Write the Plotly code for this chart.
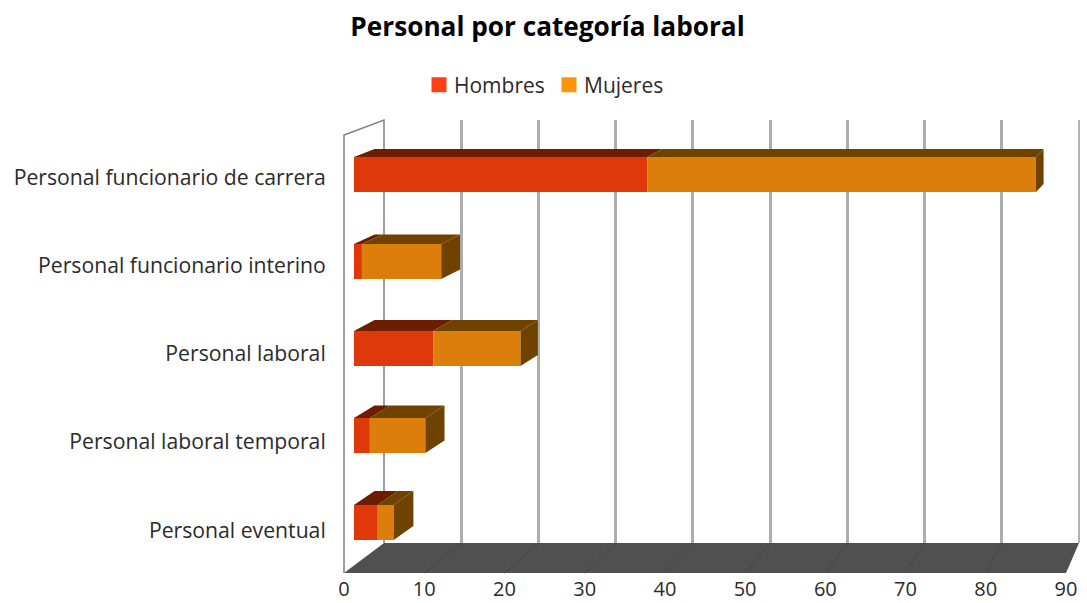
import plotly.graph_objects as go

W, H = 1087, 603
FONT = "Open Sans"
TEXT = "#2b2b2b"

categories = ["Personal funcionario de carrera", "Personal funcionario interino",
              "Personal laboral", "Personal laboral temporal", "Personal eventual"]
hombres = [37, 1, 10, 2, 3]
mujeres = [49, 10, 11, 7, 2]
x_ticks = [0, 10, 20, 30, 40, 50, 60, 70, 80, 90]

C_H, C_M = "#DE380B", "#DC7E0B"
C_H_TOP, C_M_TOP = "#6E1E00", "#6F4200"
C_H_LEG, C_M_LEG = "#FF4012", "#FF930F"

# pixel geometry of the pseudo-3D box
BAR_X0, BAR_PX = 354.0, 7.93
BAR_Y0, BAR_DY = 174.5, 87.0
BOX_TOP, BOX_BOT, BACK_BOT = 120, 573, 543
FRONT_X0, FRONT_X1 = 344, 1066
BACK_X0, BACK_X1 = 384, 1079
LAB_Y0, LAB_DY = 177.3, 88.25


def px(p):
    return p / W


def py(p):
    return 1 - p / H


def depth_x(v):
    return (20.5 - 0.15 * v) / BAR_PX


def depth_y(i):
    return (8 + 1.5 * i) / BAR_DY


fig = go.Figure()

# Floor and walls
shapes = [
    dict(type="path", xref="paper", yref="paper", layer="below", line=dict(width=0),
         fillcolor="#505050",
         path=f"M{px(FRONT_X0)},{py(BOX_BOT)} L{px(FRONT_X1)},{py(BOX_BOT)} "
              f"L{px(BACK_X1)},{py(BACK_BOT)} L{px(BACK_X0)},{py(BACK_BOT)} Z"),
    dict(type="path", xref="paper", yref="paper", layer="below",
         line=dict(width=1.5, color="#7f7f7f"),
         path=f"M{px(FRONT_X0)},{py(BOX_BOT)} L{px(FRONT_X0)},{py(135)} "
              f"L{px(BACK_X0)},{py(BOX_TOP)} L{px(BACK_X0)},{py(BACK_BOT)}"),
    dict(type="line", xref="paper", yref="paper", layer="below",
         x0=px(BACK_X1), y0=py(BOX_TOP), x1=px(BACK_X1), y1=py(BACK_BOT),
         line=dict(width=1.5, color="#999999")),
]
for t in x_ticks[1:-1]:
    fx = FRONT_X0 + (FRONT_X1 - FRONT_X0) * t / 90
    bx = BACK_X0 + (BACK_X1 - BACK_X0) * t / 90
    shapes.append(dict(type="line", xref="paper", yref="paper", layer="below",
                       x0=px(fx), y0=py(BOX_BOT), x1=px(bx), y1=py(BACK_BOT),
                       line=dict(width=1, color="#454545")))

# Legend entries
for name, col in [("Hombres", C_H_LEG), ("Mujeres", C_M_LEG)]:
    fig.add_trace(go.Scatter(x=[None], y=[None], mode="markers", name=name,
                             marker=dict(symbol="square", size=15, color=col),
                             xaxis="x3", yaxis="y3"))

# Front faces
fig.add_trace(go.Bar(y=list(range(5)), x=hombres, orientation="h", width=35 / BAR_DY,
                     marker=dict(color=C_H, line=dict(width=0)), showlegend=False,
                     xaxis="x3", yaxis="y3"))
fig.add_trace(go.Bar(y=list(range(5)), x=mujeres, base=hombres, orientation="h", width=35 / BAR_DY,
                     marker=dict(color=C_M, line=dict(width=0)), showlegend=False,
                     xaxis="x3", yaxis="y3"))

# Top and side faces
half = 17.5 / BAR_DY
for i, (h, m) in enumerate(zip(hombres, mujeres)):
    top, bot = i - half, i + half
    dy = depth_y(i)
    for a, b, col in [(0, h, C_H_TOP), (h, h + m, C_M_TOP)]:
        fig.add_trace(go.Scatter(
            x=[a, b, b + depth_x(b), a + depth_x(a), a],
            y=[top, top, top - dy, top - dy, top],
            mode="lines", fill="toself", fillcolor=col, line=dict(width=0),
            showlegend=False, hoverinfo="skip", xaxis="x3", yaxis="y3"))
    e = h + m
    fig.add_trace(go.Scatter(
        x=[e, e + depth_x(e), e + depth_x(e), e, e],
        y=[top, top - dy, bot - dy, bot, top],
        mode="lines", fill="toself", fillcolor=C_M_TOP, line=dict(width=0),
        showlegend=False, hoverinfo="skip", xaxis="x3", yaxis="y3"))

# Dummy traces so the helper subplots exist
fig.add_trace(go.Scatter(x=[None], y=[None], showlegend=False, xaxis="x", yaxis="y"))
fig.add_trace(go.Scatter(x=[None], y=[None], showlegend=False, xaxis="x2", yaxis="y2"))

axis_font = dict(family=FONT, size=21.2, color=TEXT)

fig.update_layout(
    width=W, height=H, margin=dict(l=0, r=0, t=0, b=0), autosize=False,
    paper_bgcolor="white", plot_bgcolor="rgba(0,0,0,0)",
    barmode="overlay", shapes=shapes,
    title=dict(text="<b>Personal por categoría laboral</b>", x=547.5 / W, xanchor="center",
               y=py(27), yanchor="middle", automargin=False,
               font=dict(family=FONT, size=26.2, color="#000000")),
    legend=dict(orientation="h", x=px(414), xanchor="left", y=py(85), yanchor="middle",
                font=dict(family=FONT, size=21, color=TEXT), itemsizing="trace",
                entrywidth=85, entrywidthmode="pixels",
                bgcolor="rgba(0,0,0,0)", traceorder="normal"),
    # back-wall gridlines
    xaxis=dict(domain=[px(BACK_X0), px(BACK_X1)], range=[0, 90], anchor="y", automargin=False,
               tickvals=x_ticks[1:-1], showgrid=True, gridcolor="#adadad", gridwidth=2.5,
               showticklabels=False, ticks="", zeroline=False, showline=False),
    yaxis=dict(domain=[py(BACK_BOT), py(BOX_TOP)], range=[0, 1], anchor="x", automargin=False,
               showgrid=False, showticklabels=False, ticks="", zeroline=False, showline=False),
    # front tick labels
    xaxis2=dict(domain=[px(FRONT_X0), px(FRONT_X1)], range=[0, 90], anchor="y2", automargin=False,
                tickvals=x_ticks, showgrid=False, ticks="", ticklabelstandoff=1,
                zeroline=False, showline=False,
                tickfont=dict(family=FONT, size=20, color=TEXT)),
    yaxis2=dict(domain=[py(LAB_Y0 + 4.5 * LAB_DY), py(LAB_Y0 - 0.5 * LAB_DY)], range=[4.5, -0.5],
                anchor="x2", automargin=False, tickvals=list(range(5)), ticktext=categories,
                showgrid=False, ticks="outside", ticklen=13, tickcolor="rgba(0,0,0,0)",
                zeroline=False, showline=False, tickfont=axis_font),
    # bars
    xaxis3=dict(domain=[px(BAR_X0), px(BAR_X0 + 90 * BAR_PX)], range=[0, 90], anchor="y3",
                automargin=False, visible=False),
    yaxis3=dict(domain=[py(BOX_BOT), py(BOX_TOP)],
                range=[(BOX_BOT - BAR_Y0) / BAR_DY, (BOX_TOP - BAR_Y0) / BAR_DY],
                anchor="x3", automargin=False, visible=False),
)

fig.write_html("out.html",
               post_script="document.body.style.margin='0';"
                           "document.querySelectorAll('.legendsymbols').forEach(function(e){"
                           "e.setAttribute('transform','translate(5,0)');});",
               config=dict(displayModeBar=False))
